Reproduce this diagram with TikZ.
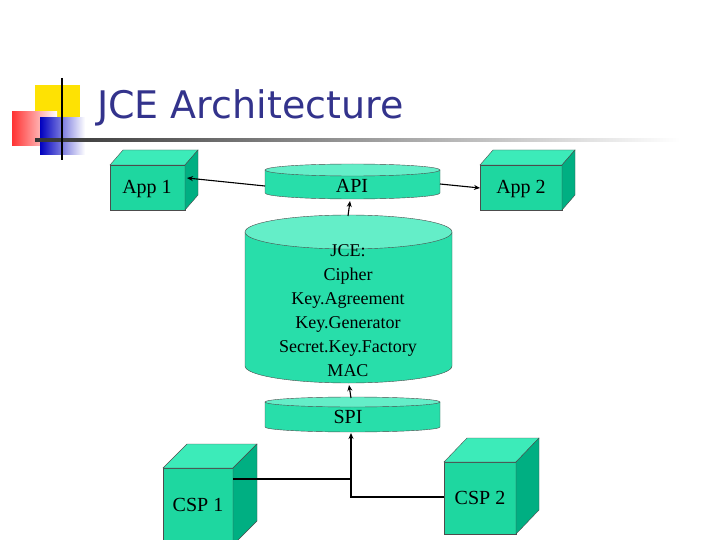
\documentclass[tikz,border=0pt]{standalone}
\usepackage{fontspec}
\setmainfont{Liberation Serif}
\newfontfamily\titlefont{DejaVu Sans}
\usetikzlibrary{arrows.meta}
\definecolor{frontc}{RGB}{30,215,160}
\definecolor{topc}{RGB}{60,235,185}
\definecolor{sidec}{RGB}{0,175,130}
\definecolor{cylc}{RGB}{40,222,170}
\definecolor{cyltop}{RGB}{100,238,200}
\definecolor{titleblue}{RGB}{51,51,140}
\tikzset{
  lbl/.style={font=\fontsize{20}{24}\selectfont, inner sep=0pt},
  conn/.style={line width=1.1pt, -{Stealth[length=6pt,width=5pt]}},
  plainconn/.style={line width=1.1pt},
}
\newcommand{\mycube}[6]{%
  \filldraw[draw=black!70,fill=frontc] (#1,#2) rectangle (#3,#4);
  \filldraw[draw=black!70,fill=topc] (#1,#2) -- ++(#5,-#6) -- (#3+#5,#2-#6) -- (#3,#2) -- cycle;
  \filldraw[draw=black!70,fill=sidec] (#3,#2) -- (#3+#5,#2-#6) -- (#3+#5,#4-#6) -- (#3,#4) -- cycle;
}
\newcommand{\mycyl}[5]{%
  \filldraw[draw=black!70,fill=cylc] (#1,#3) -- (#1,#4) arc[start angle=180,end angle=0,x radius={(#2-#1)/2},y radius=#5] -- (#2,#3) -- cycle;
  \filldraw[draw=black!70,fill=cyltop] ({(#1+#2)/2},#3) ellipse[x radius={(#2-#1)/2},y radius=#5];
}
\begin{document}
\begin{tikzpicture}[x=1pt,y=-1pt]
\useasboundingbox (0,0) rectangle (720,540);
\fill[white] (0,0) rectangle (720,540);
\fill[yellow!85!orange] (35,85) rectangle (80,128);
\shade[left color=red!80, right color=white] (12,112) rectangle (57,146);
\shade[left color=blue!75!black, right color=white] (40,118) rectangle (85,155);
\shade[left color=black!80, right color=white, middle color=black!40] (35,139) rectangle (680,141.5);
\draw[line width=1.5pt] (62,78) -- (62,160);
\node[anchor=base west, inner sep=0pt, text=titleblue, font=\titlefont\fontsize{38}{44}\selectfont] (title) at (97,119) {JCE Architecture};
\mycube{110}{165}{185}{210}{13}{15}
\node[lbl] (app1) at (147,189) {App 1};
\mycube{480}{165}{562}{210}{13}{15}
\node[lbl] (app2) at (521,189) {App 2};
\mycube{163}{468}{233}{545}{24}{24}
\node[lbl] (csp1) at (198,505) {CSP 1};
\mycube{444}{462}{516}{534}{23}{24}
\node[lbl] (csp2) at (480,498) {CSP 2};
\mycyl{265}{440}{170}{193}{6}
\node[lbl] (api) at (352,186) {API};
\mycyl{245}{452}{232}{366}{17}
\node[lbl, align=center, font=\fontsize{18}{24}\selectfont] (jce) at (348,311) {JCE:\\Cipher\\Key.Agreement\\Key.Generator\\Secret.Key.Factory\\MAC};
\mycyl{265}{440}{402}{427}{5}
\node[lbl] (spi) at (348,417) {SPI};
\coordinate (apiL) at (265,186);
\coordinate (apiR) at (440,184);
\coordinate (app1R) at (187,178);
\coordinate (app2L) at (480,188);
\draw[conn] (apiL) -- (app1R);
\draw[conn] (apiR) -- (app2L);
\coordinate (jceT) at (348,216);
\coordinate (apiB) at (350,201);
\draw[conn] (jceT) -- (apiB);
\coordinate (spiT) at (351,398);
\coordinate (jceB) at (349,385);
\draw[conn] (spiT) -- (jceB);
\coordinate (c1) at (233,479);
\coordinate (c2) at (444,497);
\coordinate (mid) at (351,479);
\coordinate (spiB) at (351,433);
\draw[plainconn] (c1) -- (mid);
\draw[conn] (c2) -| (spiB);
\end{tikzpicture}
\end{document}
